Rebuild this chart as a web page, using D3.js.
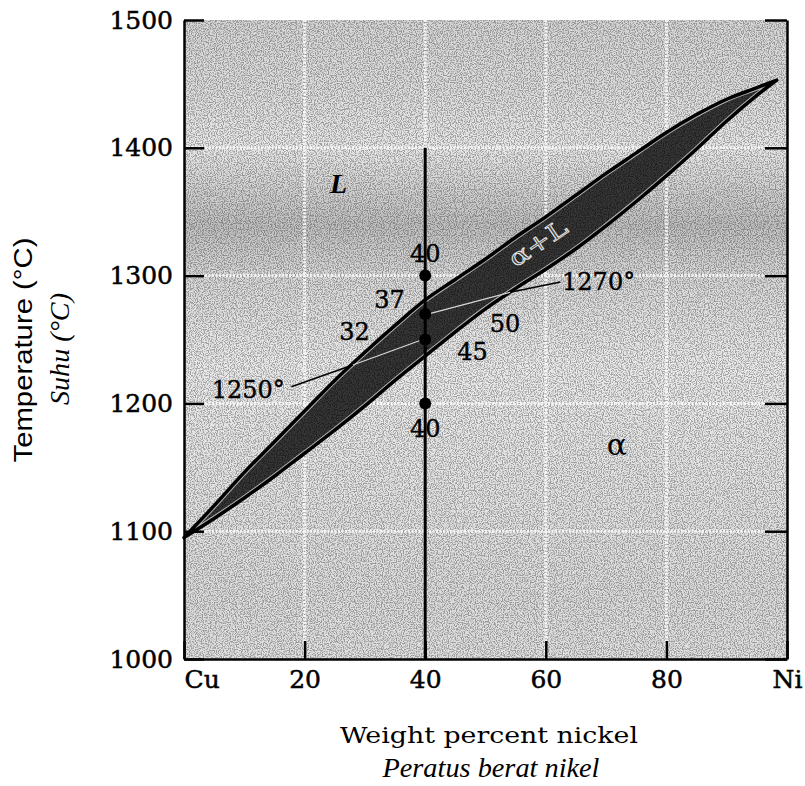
<!DOCTYPE html>
<html>
<head>
<meta charset="utf-8">
<script src="https://cdn.jsdelivr.net/npm/d3@7"></script>
<style>
  body { margin: 0; background: #fff; }
  svg { display: block; }
</style>
</head>
<body>
<div id="chart"></div>
<script>
// Cu-Ni phase diagram (wt% Ni, temperature in C)
const liquidus = [[0, 1095], [5, 1120], [10, 1146], [15, 1170], [20, 1194], [25, 1218], [30, 1240],
  [35, 1261], [40, 1281], [45, 1297], [50, 1313], [55, 1330], [60, 1346], [65, 1363], [70, 1380],
  [75, 1396], [80, 1412], [85, 1426], [90, 1438], [95, 1447], [98.3, 1453]]
const solidus = [[0, 1095], [5, 1110], [10, 1126], [15, 1143], [20, 1161], [25, 1179], [30, 1198],
  [35, 1218], [40, 1237], [45, 1256], [50, 1274], [55, 1290], [60, 1305], [65, 1321], [70, 1339],
  [75, 1358], [80, 1378], [85, 1399], [90, 1421], [95, 1441], [98.3, 1453]]

const tempTicks = [1000, 1100, 1200, 1300, 1400, 1500]
const compTicks = [0, 20, 40, 60, 80, 100]
const compTickLabels = ["Cu", "20", "40", "60", "80", "Ni"]

// the 40 wt% alloy and the temperatures marked on it
const alloyComp = 40
const alloyTop = 1400
const alloyDots = [1300, 1270, 1250, 1200]

// composition readings beside the dots: [text, wt%, temp, anchor]
const compNotes = [["40", 40, 1311, "middle"], ["37", 36.6, 1275, "end"], ["32", 30.8, 1250, "end"],
  ["50", 50.7, 1256, "start"], ["45", 45.3, 1234, "start"], ["40", 40, 1174, "middle"]]
// tie line temperatures with their leader lines
const tempNotes = [["1250°", 4.6, 1204], ["1270°", 62.7, 1289]]
const leaders = [[[17.8, 1213], [28.0, 1230]], [[62.4, 1295], [54.1, 1287]]]
const tieLines = [[[28.0, 1230], [39.6, 1250]], [[54.1, 1287], [40.6, 1270]]]

class PhaseDiagram {

  constructor(width, height) {
    this.width = width
    this.height = height
    this.x = d3.scaleLinear().domain([0, 100]).range([184, 787])
    this.y = d3.scaleLinear().domain([1000, 1500]).range([659, 20])
    this.svg = d3.select("#chart")
      .append("svg")
      .attr("width", width)
      .attr("height", height)
  }

  init() {
    this.setDefs()
    this.setBackground()
    this.setBand()
    this.setAlloyLine()
    this.setAxes()
    this.setLabels()
  }

  setDefs() {
    const defs = this.svg.append("defs")

    // grey shading of the printed figure, darker round 1300-1350
    const grad = defs.append("linearGradient")
      .attr("id", "shade")
      .attr("gradientUnits", "userSpaceOnUse")
      .attr("x1", 0).attr("x2", 0)
      .attr("y1", this.y(1500)).attr("y2", this.y(1000))
    const stops = [[1500, "#d6d6d6"], [1440, "#dedede"], [1400, "#e8e8e8"], [1340, "#c0c0c0"],
      [1300, "#d8d8d8"], [1230, "#eaeaea"], [1150, "#e4e4e4"], [1050, "#dcdcdc"], [1000, "#e0e0e0"]]
    stops.forEach(s => {
      grad.append("stop")
        .attr("offset", (this.y(s[0]) - this.y(1500)) / (this.y(1000) - this.y(1500)))
        .attr("stop-color", s[1])
    })

    // stipple texture
    const f = defs.append("filter")
      .attr("id", "stipple")
      .attr("x", 0).attr("y", 0).attr("width", 1).attr("height", 1)
    f.append("feTurbulence")
      .attr("type", "fractalNoise")
      .attr("baseFrequency", 0.85)
      .attr("numOctaves", 1)
      .attr("seed", 4)
      .attr("result", "noise")
    f.append("feColorMatrix")
      .attr("in", "noise")
      .attr("type", "matrix")
      .attr("values", "0 0 0 0 0  0 0 0 0 0  0 0 0 0 0  6 0 0 0 -2.7")
      .attr("result", "dots")
    f.append("feComposite")
      .attr("in", "dots")
      .attr("in2", "SourceGraphic")
      .attr("operator", "in")

    this.lineGen = d3.line()
      .x(d => this.x(d[0]))
      .y(d => this.y(d[1]))
      .curve(d3.curveCatmullRom)
    this.bandPath = this.lineGen(liquidus) +
      this.lineGen(solidus.slice().reverse()).replace(/^M/, "L") + "Z"

    defs.append("clipPath")
      .attr("id", "bandClip")
      .append("path")
      .attr("d", this.bandPath)
  }

  setBackground() {
    const x0 = this.x(0), x1 = this.x(100), y0 = this.y(1500), y1 = this.y(1000)

    this.svg.append("rect")
      .attr("x", x0).attr("y", y0)
      .attr("width", x1 - x0).attr("height", y1 - y0)
      .attr("fill", "url(#shade)")

    this.svg.append("rect")
      .attr("x", x0).attr("y", y0)
      .attr("width", x1 - x0).attr("height", y1 - y0)
      .attr("fill", "#000")
      .attr("opacity", 0.3)
      .attr("filter", "url(#stipple)")

    // light dotted grid
    const grid = this.svg.append("g")
      .attr("stroke", "#fff")
      .attr("stroke-width", 3)
      .attr("stroke-dasharray", "2,1.5")
      .attr("opacity", 0.8)
    grid.selectAll(".vgrid")
      .data(compTicks.slice(1, -1))
      .join("line")
      .attr("x1", d => this.x(d)).attr("x2", d => this.x(d))
      .attr("y1", y0).attr("y2", y1)
    grid.selectAll(".hgrid")
      .data(tempTicks.slice(1, -1))
      .join("line")
      .attr("x1", x0).attr("x2", x1)
      .attr("y1", d => this.y(d)).attr("y2", d => this.y(d))
  }

  setBand() {
    this.svg.append("path")
      .attr("d", this.bandPath)
      .attr("fill", "#363636")

    this.svg.append("path")
      .attr("d", this.bandPath)
      .attr("fill", "#000")
      .attr("opacity", 0.4)
      .attr("filter", "url(#stipple)")

    // thin white rim just inside the edges
    this.svg.append("g")
      .attr("clip-path", "url(#bandClip)")
      .append("path")
      .attr("d", this.bandPath)
      .attr("fill", "none")
      .attr("stroke", "#e8e8e8")
      .attr("stroke-width", 5.5)
      .attr("opacity", 0.7)

    this.svg.append("path")
      .attr("d", this.bandPath)
      .attr("fill", "none")
      .attr("stroke", "#000")
      .attr("stroke-width", 3.5)
      .attr("stroke-linejoin", "round")

    // tie lines inside the band
    this.svg.selectAll(".tie")
      .data(tieLines)
      .join("line")
      .attr("x1", d => this.x(d[0][0])).attr("y1", d => this.y(d[0][1]))
      .attr("x2", d => this.x(d[1][0])).attr("y2", d => this.y(d[1][1]))
      .attr("stroke", "#d8d8d8")
      .attr("stroke-width", 1.2)
  }

  setAlloyLine() {
    this.svg.append("line")
      .attr("x1", this.x(alloyComp)).attr("x2", this.x(alloyComp))
      .attr("y1", this.y(alloyTop)).attr("y2", this.y(1000))
      .attr("stroke", "#000")
      .attr("stroke-width", 3)

    this.svg.selectAll(".dot")
      .data(alloyDots)
      .join("circle")
      .attr("cx", this.x(alloyComp))
      .attr("cy", d => this.y(d))
      .attr("r", 6)
      .attr("fill", "#000")

    this.svg.selectAll(".leader")
      .data(leaders)
      .join("line")
      .attr("x1", d => this.x(d[0][0])).attr("y1", d => this.y(d[0][1]))
      .attr("x2", d => this.x(d[1][0])).attr("y2", d => this.y(d[1][1]))
      .attr("stroke", "#000")
      .attr("stroke-width", 1.5)
  }

  setAxes() {
    const serif = "'DejaVu Serif', serif"

    const left = this.svg.append("g")
      .attr("transform", `translate(${this.x(0)},0)`)
      .call(d3.axisLeft(this.y).tickValues(tempTicks).tickSize(-20).tickSizeOuter(0).tickPadding(11)
        .tickFormat(d3.format("d")))

    const bottom = this.svg.append("g")
      .attr("transform", `translate(0,${this.y(1000)})`)
      .call(d3.axisBottom(this.x).tickValues(compTicks).tickSize(-18).tickSizeOuter(0).tickPadding(11)
        .tickFormat((d, i) => compTickLabels[i]))
    bottom.selectAll(".tick text")
      .filter(d => d === 0)
      .attr("text-anchor", "start")

    const right = this.svg.append("g")
      .attr("transform", `translate(${this.x(100)},0)`)
      .call(d3.axisRight(this.y).tickValues(tempTicks).tickSize(-22).tickSizeOuter(0).tickFormat(""))

    ;[left, bottom, right].forEach(g => {
      g.select(".domain").attr("stroke-width", 2.5)
      g.selectAll(".tick line").attr("stroke-width", 2.5)
      g.selectAll(".tick text")
        .attr("font-family", serif)
        .attr("font-size", 25)
        .attr("fill", "#000")
        .attr("stroke", "#000")
        .attr("stroke-width", 0.5)
    })
  }

  setLabels() {
    const serif = "'DejaVu Serif', serif"
    const times = "'Liberation Serif', 'Times New Roman', serif"

    this.svg.selectAll(".comp-note")
      .data(compNotes)
      .join("text")
      .attr("x", d => this.x(d[1]))
      .attr("y", d => this.y(d[2]))
      .attr("text-anchor", d => d[3])
      .attr("font-family", serif)
      .attr("font-size", 24)
      .attr("stroke", "#000")
      .attr("stroke-width", 0.4)
      .text(d => d[0])

    this.svg.selectAll(".temp-note")
      .data(tempNotes)
      .join("text")
      .attr("x", d => this.x(d[1]))
      .attr("y", d => this.y(d[2]))
      .attr("font-family", serif)
      .attr("font-size", 24)
      .attr("stroke", "#000")
      .attr("stroke-width", 0.4)
      .text(d => d[0])

    // phase fields
    this.svg.append("text")
      .attr("x", this.x(24.2)).attr("y", this.y(1365))
      .attr("font-family", times)
      .attr("font-style", "italic")
      .attr("font-weight", "bold")
      .attr("font-size", 28)
      .text("L")

    this.svg.append("text")
      .attr("x", this.x(70.1)).attr("y", this.y(1160))
      .attr("font-family", serif)
      .attr("font-size", 30)
      .text("α")

    this.svg.append("text")
      .attr("transform", `translate(${this.x(58.7)},${this.y(1325.5)}) rotate(-34)`)
      .attr("text-anchor", "middle")
      .attr("dy", "0.35em")
      .attr("font-family", serif)
      .attr("font-size", 23)
      .attr("textLength", 65)
      .attr("lengthAdjust", "spacingAndGlyphs")
      .attr("fill", "#444")
      .attr("stroke", "#e6e6e6")
      .attr("stroke-width", 0.9)
      .text("α+L")

    // axis titles
    this.svg.append("text")
      .attr("x", 489).attr("y", 743)
      .attr("text-anchor", "middle")
      .attr("font-family", serif)
      .attr("font-size", 23)
      .attr("textLength", 298)
      .attr("lengthAdjust", "spacingAndGlyphs")
      .text("Weight percent nickel")

    this.svg.append("text")
      .attr("x", 491).attr("y", 777)
      .attr("text-anchor", "middle")
      .attr("font-family", times)
      .attr("font-style", "italic")
      .attr("font-size", 27)
      .attr("textLength", 217)
      .attr("lengthAdjust", "spacingAndGlyphs")
      .text("Peratus berat nikel")

    this.svg.append("text")
      .attr("transform", "translate(32,350) rotate(-90)")
      .attr("text-anchor", "middle")
      .attr("font-family", "'Liberation Sans', Arial, sans-serif")
      .attr("font-size", 25)
      .attr("textLength", 225)
      .attr("lengthAdjust", "spacingAndGlyphs")
      .text("Temperature (°C)")

    this.svg.append("text")
      .attr("transform", "translate(69,349) rotate(-90)")
      .attr("text-anchor", "middle")
      .attr("font-family", times)
      .attr("font-style", "italic")
      .attr("font-size", 27)
      .attr("textLength", 112)
      .attr("lengthAdjust", "spacingAndGlyphs")
      .text("Suhu (°C)")
  }
}

const diagram = new PhaseDiagram(805, 786)
diagram.init()
</script>
</body>
</html>
